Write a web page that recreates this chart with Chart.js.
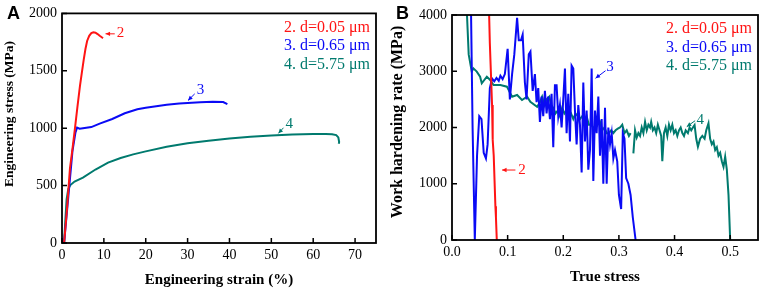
<!DOCTYPE html>
<html>
<head>
<meta charset="utf-8">
<script src="https://cdn.jsdelivr.net/npm/chart.js@4.4.0/dist/chart.umd.min.js"></script>
<style>
  html, body { margin: 0; padding: 0; background: #fff; }
  #wrap { position: relative; width: 765px; height: 289px; }
  .panel { position: absolute; top: 0; height: 289px; }
</style>
</head>
<body>
<div id="wrap">
  <div class="panel" style="left:0;width:385px"><canvas id="panelA"></canvas></div>
  <div class="panel" style="left:385px;width:380px"><canvas id="panelB"></canvas></div>
</div>
<script>
// ---- panel A: engineering stress-strain ----
const strain2 = [0.5, 1.2, 1.9, 2.5, 3.1, 3.7, 4.3, 4.8, 5.2, 5.6, 6.0, 6.5, 7.0, 7.5, 8.0, 8.5, 9.0, 9.5, 9.8];
const stress2 = [0, 300, 650, 820, 1000, 1190, 1370, 1500, 1600, 1690, 1760, 1805, 1828, 1835, 1832, 1820, 1805, 1792, 1785];

const strain3 = [0.5, 1.5, 2.5, 3.2, 3.6, 4.2, 5, 7, 9, 12, 15, 18, 20, 25, 28, 30, 33, 36, 38.5, 39.5];
const stress3 = [0, 400, 800, 960, 1005, 995, 1000, 1010, 1040, 1080, 1130, 1165, 1178, 1205, 1215, 1220, 1226, 1230, 1228, 1210];

const strain4 = [0.5, 0.8, 1.1, 1.5, 2, 3, 5, 8, 11, 14, 17, 20, 25, 30, 35, 40, 45, 50, 55, 60, 63, 64.5, 65.5, 66, 66.2, 66.1];
const stress4 = [0, 200, 380, 470, 505, 535, 570, 640, 700, 740, 772, 798, 838, 868, 890, 910, 925, 937, 945, 950, 950, 948, 940, 920, 880, 865];

const strainTicks = [0, 10, 20, 30, 40, 50, 60, 70];
const stressTicks = [0, 500, 1000, 1500, 2000];

// ---- panel B: work hardening rate ----
const ts2 = [0.066, 0.068, 0.070, 0.072, 0.0735, 0.0728, 0.075, 0.0765, 0.078, 0.079, 0.0805];
const whr2 = [4300, 3500, 2950, 2400, 1950, 1780, 1500, 1050, 600, 400, 0];

const ts3 = [0.034, 0.037, 0.041, 0.045, 0.049, 0.053, 0.057, 0.061, 0.064, 0.068, 0.072, 0.076, 0.080, 0.084,
  0.087, 0.091, 0.095, 0.100, 0.104, 0.108, 0.112, 0.117, 0.120, 0.124, 0.127, 0.131, 0.134, 0.138, 0.141,
  0.145, 0.149, 0.152, 0.155, 0.158, 0.161, 0.164, 0.167, 0.170, 0.173, 0.176, 0.179, 0.182, 0.185, 0.188,
  0.191, 0.194, 0.197, 0.200, 0.203, 0.206, 0.209, 0.212, 0.215, 0.218, 0.221, 0.224, 0.227, 0.230, 0.233,
  0.236, 0.239, 0.242, 0.245, 0.248, 0.251, 0.254, 0.257, 0.260, 0.263, 0.266, 0.269, 0.272, 0.275, 0.278,
  0.281, 0.284, 0.287, 0.290, 0.293, 0.297, 0.300, 0.304, 0.307, 0.310, 0.313, 0.317, 0.321, 0.325, 0.330];
const whr3 = [4200, 2000, 0, 1500, 2200, 2150, 1550, 1450, 1700, 2700, 2870, 2820, 2880, 2830,
  2920, 2860, 2950, 3400, 2500, 2950, 3300, 3950, 3550, 3550, 3650, 2800, 2500, 3300, 3350,
  2650, 2950, 2450, 2700, 2100, 2550, 2200, 2650, 2250, 2550, 2150, 2600, 1650, 2750, 2750,
  2200, 2400, 2000, 2500, 3050, 1900, 2600, 1750, 3100, 3050, 2300, 1700, 2400, 2050, 1200,
  2800, 1750, 2300, 1250, 1600, 3050, 1050, 2300, 1900, 2550, 1500, 2150, 1000, 2350, 1000,
  2000, 1700, 1900, 1450, 1600, 1400, 800, 550, 1900, 1800, 1100, 1000, 800, 400, 0];

const ts4 = [0.0265, 0.030, 0.0355, 0.0385, 0.0445, 0.0505, 0.0535, 0.0626, 0.0686, 0.0746, 0.087, 0.0987,
  0.108, 0.117, 0.1258, 0.135, 0.1408, 0.153, 0.158, 0.162, 0.166, 0.170, 0.175, 0.178, 0.182, 0.186,
  0.190, 0.194, 0.198, 0.202, 0.206, 0.210, 0.214, 0.218, 0.222, 0.226, 0.230, 0.234, 0.238, 0.242,
  0.246, 0.250, 0.254, 0.258, 0.262, 0.266, 0.270, 0.274, 0.278, 0.282, 0.286, 0.290, 0.294, 0.298,
  0.302, 0.306, 0.310, 0.314, 0.318, 0.321, 0.3235,
  0.326, 0.329, 0.332, 0.335, 0.338, 0.341, 0.344, 0.347, 0.350, 0.353, 0.356, 0.358, 0.361, 0.364,
  0.367, 0.370, 0.373, 0.376, 0.378, 0.381, 0.384, 0.387, 0.390, 0.393, 0.396, 0.399, 0.402, 0.405,
  0.408, 0.411, 0.414, 0.417, 0.420, 0.424, 0.427, 0.430, 0.433, 0.436, 0.439, 0.442, 0.446, 0.450,
  0.454, 0.457, 0.461, 0.464, 0.467, 0.470, 0.473, 0.476, 0.479, 0.482, 0.485, 0.488, 0.491, 0.494,
  0.497, 0.500];
const whr4 = [4100, 3300, 2993, 3052, 2993, 2904, 2785, 2904, 2845, 2756, 2756, 2726,
  2548, 2578, 2489, 2548, 2459, 2370, 2450, 2548, 2400, 2500, 2550, 2400, 2350, 2250,
  2300, 2200, 2350, 2250, 2300, 2200, 2250, 2150, 2250, 2200, 2150, 2200, 2100, 2200,
  2050, 2050, 2000, 2000, 2050, 2100, 1950, 2000, 1900, 1900, 1950, 1900, 1950, 1980,
  2000, 2050, 1900, 1950, 1850, 1900, null,
  1541, 1950, 1820, 1900, 1850, 2000, 1900, 2100, 1950, 2050, 2000, 2100, 1950, 2000,
  1900, 2050, 1950, 1850, 1400, 1900, 2000, 1850, 2050, 1950, 2050, 1900, 1950, 1850,
  1950, 2000, 1900, 1850, 1950, 1900, 2000, 1950, 2000, 2045, 1800, 1659, 1800, 1850,
  1800, 1950, 2074, 1800, 1700, 1750, 1600, 1650, 1500, 1550, 1400, 1300, 1480, 1250,
  800, 0];

const trueStressTicks = [0, 0.1, 0.2, 0.3, 0.4, 0.5];
const whrTicks = [0, 1000, 2000, 3000, 4000];

const labels = ["2. d=0.05 \u03bcm", "3. d=0.65 \u03bcm", "4. d=5.75 \u03bcm"];
const colors = ["rgb(255, 20, 20)", "rgb(10, 10, 245)", "rgb(0, 122, 110)"];

// annotation arrows: [label, labelX, labelY, fromX, fromY, toX, toY] in data units
const notesA = [
  ["2", 14.0, 1830, 12.6, 1822, 10.4, 1822],
  ["3", 33.1, 1328, 31.7, 1299, 30.1, 1242],
  ["4", 54.3, 1033, 52.9, 1004, 51.7, 955],
];
const notesB = [
  ["2", 0.126, 1244, 0.114, 1244, 0.090, 1244],
  ["3", 0.284, 3070, 0.276, 3010, 0.258, 2875],
  ["4", 0.446, 2133, 0.437, 2121, 0.422, 2015],
];

function pts(xs, ys) {
  return xs.map((x, i) => ({ x: x, y: ys[i] }));
}

const serif = "'Liberation Serif', 'Times New Roman', serif";

const decor = {
  id: "decor",
  afterDraw(chart, args, opts) {
    const ctx = chart.ctx;
    const a = chart.chartArea;
    const xs = chart.scales.x, ys = chart.scales.y;
    ctx.save();
    // inward ticks
    ctx.strokeStyle = "#000";
    ctx.lineWidth = 1.5;
    ctx.beginPath();
    xs.ticks.forEach(t => {
      const p = xs.getPixelForValue(t.value);
      ctx.moveTo(p, a.bottom);
      ctx.lineTo(p, a.bottom - 5);
    });
    ys.ticks.forEach(t => {
      const p = ys.getPixelForValue(t.value);
      ctx.moveTo(a.left, p);
      ctx.lineTo(a.left + 5, p);
    });
    ctx.stroke();
    // frame
    ctx.lineWidth = 1.8;
    ctx.strokeRect(a.left, a.top, a.right - a.left, a.bottom - a.top);
    // y axis title
    ctx.save();
    ctx.translate(opts.yTitleX, opts.yTitleY);
    ctx.rotate(-Math.PI / 2);
    ctx.fillStyle = "#000";
    ctx.font = "bold " + opts.yTitleSize + "px " + serif;
    ctx.textAlign = "center";
    ctx.textBaseline = "middle";
    ctx.fillText(opts.yTitle, 0, 0);
    ctx.restore();
    // legend text
    ctx.font = "16px " + serif;
    ctx.textAlign = "right";
    ctx.textBaseline = "middle";
    labels.forEach((s, i) => {
      ctx.fillStyle = colors[i];
      ctx.fillText(s, a.right - 6, a.top + opts.legendTop + i * 18.5);
    });
    // arrows
    ctx.font = "15px " + serif;
    ctx.textAlign = "center";
    opts.notes.forEach((n, i) => {
      const c = colors[i];
      const lx = xs.getPixelForValue(n[1]), ly = ys.getPixelForValue(n[2]);
      const x1 = xs.getPixelForValue(n[3]), y1 = ys.getPixelForValue(n[4]);
      const x2 = xs.getPixelForValue(n[5]), y2 = ys.getPixelForValue(n[6]);
      ctx.fillStyle = c;
      ctx.strokeStyle = c;
      ctx.fillText(n[0], lx, ly);
      ctx.lineWidth = 1;
      ctx.beginPath();
      ctx.moveTo(x1, y1);
      ctx.lineTo(x2, y2);
      ctx.stroke();
      const ang = Math.atan2(y2 - y1, x2 - x1);
      ctx.beginPath();
      ctx.moveTo(x2, y2);
      ctx.lineTo(x2 - 5 * Math.cos(ang - 0.45), y2 - 5 * Math.sin(ang - 0.45));
      ctx.lineTo(x2 - 5 * Math.cos(ang + 0.45), y2 - 5 * Math.sin(ang + 0.45));
      ctx.closePath();
      ctx.fill();
    });
    // panel letter
    ctx.fillStyle = "#000";
    ctx.font = "bold 18px 'Liberation Sans', Arial, sans-serif";
    ctx.textAlign = "left";
    ctx.textBaseline = "alphabetic";
    ctx.fillText(opts.letter, opts.letterX, 19);
    ctx.restore();
  },
};

function makeChart(id, sets, cfg) {
  return new Chart(document.getElementById(id), {
    type: "line",
    data: {
      datasets: sets.map((d, i) => ({
        label: labels[i],
        data: d,
        borderColor: colors[i],
        borderWidth: 2,
        pointRadius: 0,
        tension: 0,
        fill: false,
        spanGaps: false,
      })),
    },
    options: {
      responsive: true,
      maintainAspectRatio: false,
      animation: false,
      layout: { padding: { top: cfg.top, right: cfg.right, left: 0, bottom: 0 } },
      plugins: {
        legend: { display: false },
        tooltip: { enabled: false },
        decor: cfg.decor,
      },
      scales: {
        x: {
          type: "linear",
          min: 0,
          max: cfg.xMax,
          grid: { display: false, drawTicks: false },
          border: { display: false },
          afterBuildTicks: s => { s.ticks = cfg.xTicks.map(v => ({ value: v })); },
          afterFit: s => { s.height = cfg.xAxisH; },
          ticks: {
            padding: 4,
            color: "#000",
            font: { family: serif, size: 14 },
            callback: cfg.xFmt,
          },
          title: {
            display: true,
            text: cfg.xTitle,
            color: "#000",
            font: { family: serif, size: 15, weight: "bold" },
            padding: { top: 0, bottom: cfg.xTitlePad },
          },
        },
        y: {
          min: 0,
          max: cfg.yMax,
          grid: { display: false, drawTicks: false },
          border: { display: false },
          afterBuildTicks: s => { s.ticks = cfg.yTicks.map(v => ({ value: v })); },
          afterFit: s => { s.width = cfg.yAxisW; },
          ticks: {
            padding: 5,
            color: "#000",
            font: { family: serif, size: 14 },
            callback: v => String(v),
          },
        },
      },
    },
    plugins: [decor],
  });
}

makeChart("panelA", [pts(strain2, stress2), pts(strain3, stress3), pts(strain4, stress4)], {
  top: 10, right: 9, xAxisH: 46, yAxisW: 62,
  xMax: 75, yMax: 2000, xTicks: strainTicks, yTicks: stressTicks,
  xFmt: v => String(v),
  xTitle: "Engineering strain (%)",
  xTitlePad: 0,
  decor: {
    letter: "A", letterX: 7, legendTop: 14, notes: notesA,
    yTitle: "Engineering stress (MPa)", yTitleX: 10, yTitleY: 114, yTitleSize: 13.5,
  },
});

makeChart("panelB", [pts(ts2, whr2), pts(ts3, whr3), pts(ts4, whr4)], {
  top: 15, right: 7, xAxisH: 49, yAxisW: 67,
  xMax: 0.55, yMax: 4000, xTicks: trueStressTicks, yTicks: whrTicks,
  xFmt: v => v.toFixed(1),
  xTitle: "True stress",
  xTitlePad: 3,
  decor: {
    letter: "B", letterX: 11, legendTop: 14, notes: notesB,
    yTitle: "Work hardening rate (MPa)", yTitleX: 13, yTitleY: 122, yTitleSize: 16,
  },
});
</script>
</body>
</html>
